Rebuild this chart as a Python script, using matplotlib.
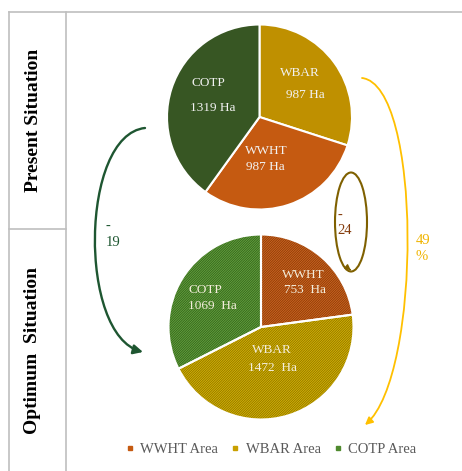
import matplotlib
matplotlib.use('Agg')
import matplotlib.pyplot as plt
from matplotlib.patches import FancyArrowPatch, Ellipse
from matplotlib.path import Path
from matplotlib.lines import Line2D

plt.rcParams['font.family'] = ['Liberation Serif', 'DejaVu Serif']
plt.rcParams['hatch.linewidth'] = 0.6

# data
crops = ['WBAR', 'WWHT', 'COTP']
present_ha = [987, 987, 1319]
optimum_crops = ['WWHT', 'WBAR', 'COTP']
optimum_ha = [753, 1472, 1069]
change_labels = ['-\n19', '-\n24', '49\n%']

present_colors = {'WBAR': '#BF9000', 'WWHT': '#C55A11', 'COTP': '#375623'}
optimum_face = {'WWHT': '#D2681F', 'WBAR': '#DDB800', 'COTP': '#66A83C'}
optimum_hatch = {'WWHT': '#8A3A0A', 'WBAR': '#8A7200', 'COTP': '#335F1E'}
legend_colors = {'WWHT': '#C55A11', 'WBAR': '#C9A000', 'COTP': '#4F8A2E'}

W, H = 462, 471
fig = plt.figure(figsize=(W / 100, H / 100), dpi=100)

# overlay in pixel coords for frame, arrows and notes
bg = fig.add_axes([0, 0, 1, 1])
bg.set_xlim(0, W)
bg.set_ylim(H, 0)
bg.axis('off')

frame = '#BFBFBF'
bg.plot([9, W], [12, 12], color=frame, lw=1.2)
bg.plot([9, 9], [12, H], color=frame, lw=1.2)
bg.plot([66, 66], [12, H], color=frame, lw=1.2)
bg.plot([9, 66], [229, 229], color=frame, lw=1.2)

bg.text(33, 120, 'Present Situation', rotation=90, ha='center', va='center',
        fontsize=14, fontweight='bold')
bg.text(33, 350, 'Optimum  Situation', rotation=90, ha='center', va='center',
        fontsize=14, fontweight='bold')


def pie_axes(cx, cy, r):
    return fig.add_axes([(cx - r) / W, 1 - (cy + r) / H, 2 * r / W, 2 * r / H])


# present pie
ax1 = pie_axes(259.5, 117, 92.5)
ax1.pie(present_ha, colors=[present_colors[c] for c in crops], startangle=90,
        counterclock=False, radius=1,
        wedgeprops=dict(edgecolor='white', linewidth=1.5))
ax1.set_xlim(-1, 1)
ax1.set_ylim(-1, 1)
txt = '#F2F2F2'
ax1.text(0.44, 0.48, 'WBAR', color=txt, ha='center', va='center', fontsize=9.5)
ax1.text(0.50, 0.24, f'{present_ha[0]} Ha', color=txt, ha='center', va='center', fontsize=9.5)
ax1.text(0.07, -0.37, 'WWHT', color=txt, ha='center', va='center', fontsize=9.5)
ax1.text(0.06, -0.54, f'{present_ha[1]} Ha', color=txt, ha='center', va='center', fontsize=9.5)
ax1.text(-0.55, 0.37, 'COTP', color=txt, ha='center', va='center', fontsize=9.5)
ax1.text(-0.50, 0.10, f'{present_ha[2]} Ha', color=txt, ha='center', va='center', fontsize=9.5)

# optimum pie (hatched)
ax2 = pie_axes(261, 327, 92.5)
wedges, _ = ax2.pie(optimum_ha, colors=[optimum_face[c] for c in optimum_crops],
                    startangle=90, counterclock=False, radius=1)
for w, c in zip(wedges, optimum_crops):
    w.set_hatch('/' * 14)
    w.set_edgecolor(optimum_hatch[c])
    w.set_linewidth(0)
ax2.pie(optimum_ha, colors=['none'] * 3, startangle=90, counterclock=False, radius=1,
        wedgeprops=dict(edgecolor='white', linewidth=1.5, fill=False))
ax2.set_xlim(-1, 1)
ax2.set_ylim(-1, 1)
txt2 = '#F4EEDC'
ax2.text(0.46, 0.56, 'WWHT', color=txt2, ha='center', va='center', fontsize=9.5)
ax2.text(0.48, 0.40, f'{optimum_ha[0]}  Ha', color=txt2, ha='center', va='center', fontsize=9.5)
ax2.text(0.12, -0.25, 'WBAR', color=txt2, ha='center', va='center', fontsize=9.5)
ax2.text(0.12, -0.44, f'{optimum_ha[1]}  Ha', color=txt2, ha='center', va='center', fontsize=9.5)
ax2.text(-0.60, 0.40, 'COTP', color=txt2, ha='center', va='center', fontsize=9.5)
ax2.text(-0.53, 0.23, f'{optimum_ha[2]}  Ha', color=txt2, ha='center', va='center', fontsize=9.5)

# change arrows
def curve(p0, p1, p2, p3, color, lw, ms):
    path = Path([p0, p1, p2, p3], [Path.MOVETO, Path.CURVE4, Path.CURVE4, Path.CURVE4])
    bg.add_patch(FancyArrowPatch(path=path, arrowstyle='-|>', color=color, lw=lw,
                                 mutation_scale=ms))

green = '#1E5631'
curve((145, 128), (80, 135), (78, 335), (143, 352), green, 1.7, 14)
bg.text(106, 234, change_labels[0], color=green, ha='left', va='center',
        fontsize=10.5, linespacing=1.3)

gold = '#FFC000'
curve((362, 78), (422, 85), (422, 375), (365, 425), gold, 1.3, 11)
bg.text(416, 248, change_labels[2], color='#F0B400', ha='left', va='center',
        fontsize=10.5, linespacing=1.3)

olive = '#7F6000'
bg.add_patch(Ellipse((351, 222), 32, 99, fill=False, edgecolor=olive, lw=1.5))
bg.add_patch(FancyArrowPatch((348, 268), (353, 272), arrowstyle='-|>', color=olive,
                             lw=1, mutation_scale=8))
bg.text(337, 223, change_labels[1], color='#843C0C', ha='left', va='center',
        fontsize=10.5, linespacing=1.3)

# legend
handles = [Line2D([], [], marker='s', ls='none', markersize=3.5,
                  color=legend_colors[c]) for c in optimum_crops]
bg.legend(handles, [c + ' Area' for c in optimum_crops], loc='center',
          bbox_to_anchor=(271 / W, 1 - 449 / H), ncol=3, frameon=False,
          fontsize=10.5, handlelength=0.6, handletextpad=0.4, columnspacing=0.9,
          labelcolor='#595959')

fig.savefig('out.png', dpi=100)
